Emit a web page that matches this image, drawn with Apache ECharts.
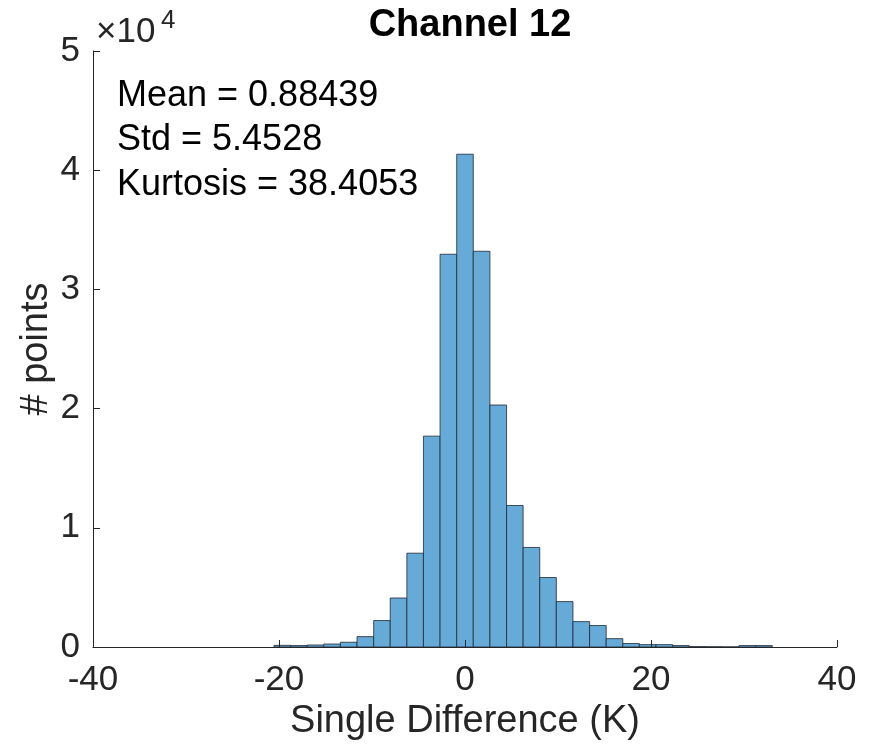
<!DOCTYPE html>
<html>
<head>
<meta charset="utf-8">
<script src="https://cdn.jsdelivr.net/npm/echarts@6/dist/echarts.min.js"></script>
<style>
  html, body { margin: 0; padding: 0; background: #fff; }
  #chart { width: 872px; height: 751px; }
</style>
</head>
<body>
<div id="chart"></div>
<script>
// histogram bins
const binEdges = [-20.54, -18.75, -16.97, -15.18, -13.40, -11.61, -9.82, -8.04, -6.25, -4.47,
  -2.68, -0.89, 0.89, 2.68, 4.47, 6.25, 8.04, 9.82, 11.61, 13.40,
  15.18, 16.97, 18.75, 20.54, 22.33, 24.11, 25.90, 27.68, 29.47, 31.26, 33.04]
const binCounts = [140, 120, 170, 250, 400, 870, 2220, 4110, 7870, 17690,
  32950, 41340, 33200, 20300, 11870, 8350, 5830, 3810, 2130, 1800,
  700, 290, 200, 200, 120, 30, 20, 10, 120, 120]
const statLines = ['Mean = 0.88439', 'Std = 5.4528', 'Kurtosis = 38.4053']

let font = 'Liberation Sans, Arial, Helvetica, sans-serif'
let axisColor = '#262626'

let chart = echarts.init(document.getElementById('chart'))

let histData = binCounts.map((c, i) => [binEdges[i], binEdges[i + 1], c])

let option = {
  animation: false,
  title: {
    text: 'Channel 12',
    left: 465,
    textAlign: 'center',
    top: 2,
    textStyle: { fontFamily: font, fontSize: 38, fontWeight: 'bold', color: '#000' }
  },
  grid: { left: 93, right: 35, top: 51, bottom: 104 },
  xAxis: {
    type: 'value',
    min: -40,
    max: 40,
    interval: 20,
    z: 5,
    name: 'Single Difference (K)',
    nameLocation: 'middle',
    nameGap: 56,
    nameMoveOverlap: false,
    nameTextStyle: { fontFamily: font, fontSize: 38, color: axisColor },
    axisLine: { show: true, onZero: false, lineStyle: { color: axisColor, width: 1 } },
    axisTick: { show: true, inside: true, length: 7, lineStyle: { color: axisColor } },
    axisLabel: { fontFamily: font, fontSize: 35, color: axisColor, margin: 16 },
    splitLine: { show: false }
  },
  yAxis: {
    type: 'value',
    min: 0,
    max: 50000,
    interval: 10000,
    z: 5,
    name: '# points',
    nameLocation: 'middle',
    nameGap: 37,
    nameMoveOverlap: false,
    nameTextStyle: { fontFamily: font, fontSize: 38, color: axisColor },
    axisLine: { show: true, onZero: false, lineStyle: { color: axisColor, width: 1 } },
    axisTick: { show: true, inside: true, length: 7, lineStyle: { color: axisColor } },
    axisLabel: {
      fontFamily: font, fontSize: 35, color: axisColor, margin: 13,
      formatter: v => String(v / 10000)
    },
    splitLine: { show: false }
  },
  graphic: [
    {
      type: 'text', left: 96, top: 15,
      style: { text: '×10', fontFamily: font, fontSize: 35, fill: axisColor }
    },
    {
      type: 'text', left: 161, top: 8,
      style: { text: '4', fontFamily: font, fontSize: 26, fill: axisColor }
    },
    ...statLines.map((t, i) => ({
      type: 'text', left: 117, top: 78 + i * 44.5,
      style: { text: t, fontFamily: font, fontSize: 36, fill: '#000' }
    }))
  ],
  series: [{
    type: 'custom',
    data: histData,
    encode: { x: [0, 1], y: 2 },
    renderItem: (params, api) => {
      let p0 = api.coord([api.value(0), 0])
      let p1 = api.coord([api.value(1), api.value(2)])
      return {
        type: 'rect',
        shape: { x: p0[0], y: p1[1], width: p1[0] - p0[0], height: p0[1] - p1[1] },
        style: { fill: '#66aad7', stroke: '#1f2a33', lineWidth: 0.8 }
      }
    }
  }]
}

chart.setOption(option)
</script>
</body>
</html>
